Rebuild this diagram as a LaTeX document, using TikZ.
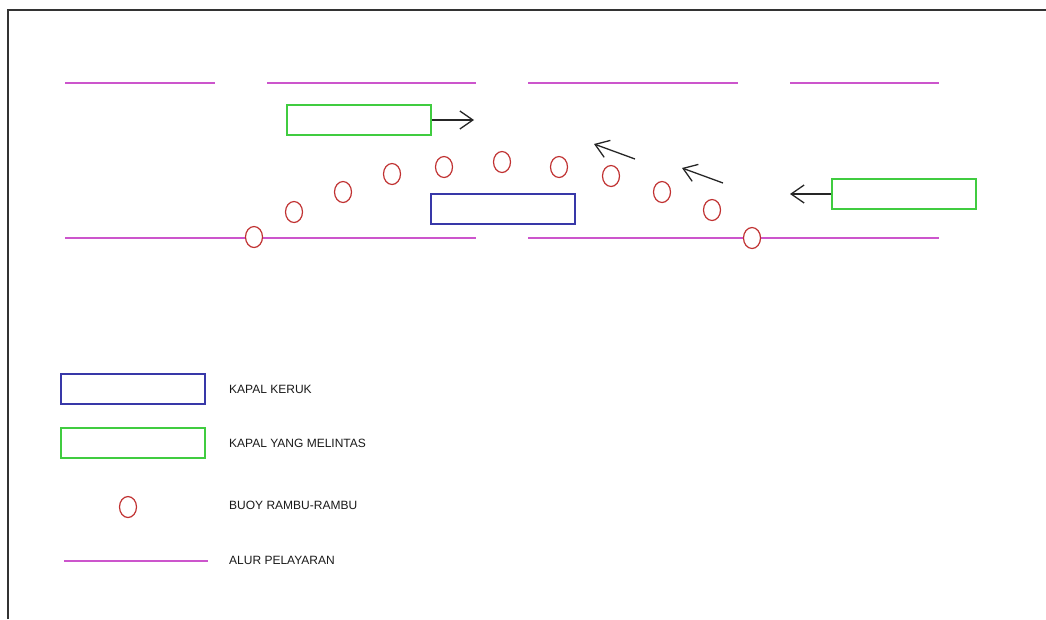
\documentclass[tikz,border=0pt]{standalone}
\usepackage{fontspec}
\setmainfont{Liberation Sans}
\usetikzlibrary{arrows.meta,positioning,shapes.geometric}
\definecolor{channelpink}{HTML}{CC55CC}
\definecolor{dredgeblue}{HTML}{3838A8}
\definecolor{shipgreen}{HTML}{40CC40}
\definecolor{buoyred}{HTML}{C03030}
\definecolor{framegray}{HTML}{333333}

\begin{document}
\begin{tikzpicture}[x=1pt, y=-1pt, >={Straight Barb[length=13pt,width=18pt]},
  channel/.style={channelpink, line width=2pt},
  dredger/.style={draw=dredgeblue, line width=1.7pt, minimum width=144pt, minimum height=30pt, inner sep=0pt},
  ship/.style={draw=shipgreen, line width=1.7pt, minimum width=144pt, minimum height=30pt, inner sep=0pt},
  buoy/.style={ellipse, draw=buoyred, fill=white, line width=1.2pt, minimum width=17pt, minimum height=21pt, inner sep=0pt},
  move/.style={->, line width=1.3pt, black!85},
  legendtext/.style={anchor=west, inner sep=0pt, text=black!90, font=\fontsize{12}{14}\selectfont}]
  \useasboundingbox (0,0) rectangle (1046,619);
  \draw[framegray, line width=1.5pt] (8,619) -- (8,10) -- (1046,10);

  % alur pelayaran
  \draw[channel] (65,83) -- (215,83);
  \draw[channel] (267,83) -- (476,83);
  \draw[channel] (528,83) -- (738,83);
  \draw[channel] (790,83) -- (939,83);
  \draw[channel] (65,238) -- (476,238);
  \draw[channel] (528,238) -- (939,238);

  % buoy rambu-rambu
  \foreach \bx/\by [count=\i] in {254/237, 294/212, 343/192, 392/174, 444/167, 502/162,
                                  559/167, 611/176, 662/192, 712/210, 752/238}
    \node[buoy] (b\i) at (\bx,\by) {};

  % kapal
  \node[dredger] (keruk) at (503,209) {};
  \node[ship] (shipA) at (359,120) {};
  \node[ship] (shipB) at (904,194) {};
  \coordinate (aheadA) at (474,120);
  \coordinate (aheadB) at (790,194);
  \draw[move] (shipA.east) -- (aheadA);
  \draw[move] (shipB.west) -- (aheadB);
  \coordinate (tailC) at (635,159);
  \coordinate (headC) at (594,144);
  \coordinate (tailD) at (723,183);
  \coordinate (headD) at (682,168);
  \draw[move] (tailC) -- (headC);
  \draw[move] (tailD) -- (headD);

  % legenda
  \node[dredger] (legkeruk) at (133,389) {};
  \node[ship] (legship) at (133,443) {};
  \node[buoy] (legbuoy) at (128,507) {};
  \coordinate (legstart) at (64,561);
  \coordinate (legend) at (208,561);
  \draw[channel] (legstart) -- (legend);
  \node[legendtext] (tkeruk) at (229,389) {KAPAL KERUK};
  \node[legendtext] (tship) at (229,443) {KAPAL YANG MELINTAS};
  \node[legendtext] (tbuoy) at (229,505) {BUOY RAMBU-RAMBU};
  \node[legendtext] (talur) at (229,560) {ALUR PELAYARAN};
\end{tikzpicture}
\end{document}
